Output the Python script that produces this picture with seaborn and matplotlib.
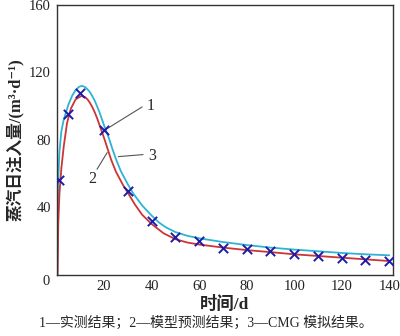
import matplotlib
matplotlib.use("Agg")
import matplotlib.pyplot as plt
import seaborn as sns
import pandas as pd

# Measured daily steam injection (d, m3/d)
meas_t = [1, 5, 10, 20, 30, 40, 50, 60, 70, 80, 90, 100, 110, 120, 130, 140]
meas_q = [56, 95.5, 108, 86, 49.5, 32, 22, 20, 16, 15, 13.7, 12, 11, 10, 8.7, 7.8]

# Model prediction
model_t = [0.4, 0.7, 1.2, 2, 3, 4.4, 6, 8, 10.4, 12, 13, 14, 15, 16, 17, 18, 19, 20,
           21.5, 23, 25, 28, 30, 33, 36, 40, 45, 50, 55, 60, 70, 80, 90, 100, 110,
           120, 130, 140]
model_q = [0, 30, 48, 63, 76, 90, 98.5, 104, 106, 105.3, 104, 102, 99.5, 96.5, 93,
           89, 85, 81, 74.5, 68, 61, 53, 48.5, 41.5, 35.5, 30, 24.5, 21, 19, 17.8,
           16, 14.5, 13.3, 12, 11, 10, 9, 8]

# CMG simulation
cmg_t = [0.3, 0.5, 0.8, 1.2, 2, 3, 4, 5, 6.5, 8, 9.5, 10.7, 12, 13, 14, 15, 16, 17,
         18, 19, 20, 22, 23.5, 25, 27, 30, 32.3, 36, 40, 43, 46, 50, 55, 60, 70, 80,
         90, 100, 110, 120, 130, 140]
cmg_q = [0, 35, 60, 73, 85, 92, 96.5, 101, 106, 109.5, 111.5, 112, 111.3, 110,
         108.3, 106, 103.3, 100, 96.5, 92.5, 88.5, 81, 74.5, 68.5, 61.5, 53.5, 48,
         41, 35, 31, 28, 25.2, 23, 21.5, 19.3, 17.5, 16, 14.8, 13.8, 12.8, 12, 11.4]

x_ticks = [20, 40, 60, 80, 100, 120, 140]
y_ticks = [40, 80, 120, 160]

sns.set_style("white")
FAMILY = ["Liberation Serif", "Noto Sans CJK SC", "DejaVu Serif"]
plt.rcParams["font.family"] = FAMILY

meas = pd.DataFrame({"t": meas_t, "q": meas_q})
model = pd.DataFrame({"t": model_t, "q": model_q})
cmg = pd.DataFrame({"t": cmg_t, "q": cmg_q})

fig = plt.figure(figsize=(4.0, 3.36), dpi=100)
ax = fig.add_axes([0.1415, 0.183, 0.841, 0.802])

sns.lineplot(data=cmg, x="t", y="q", ax=ax, color="#2fb3d3", linewidth=1.3,
             sort=False, estimator=None)
sns.lineplot(data=model, x="t", y="q", ax=ax, color="#cc3535", linewidth=1.3,
             sort=False, estimator=None)
sns.scatterplot(data=meas, x="t", y="q", ax=ax, marker="x", s=45,
                color="#1c1ca8", linewidth=1.4, zorder=5)

ax.set_xlim(0, 141.6)
ax.set_ylim(0, 160)
ax.set_xticks(x_ticks)
ax.set_yticks(y_ticks)
ax.tick_params(direction="in", length=3.5, width=0.9, labelsize=10.5,
               colors="#222222", pad=4)
for s in ax.spines.values():
    s.set_visible(True)
    s.set_color("#333333")
    s.set_linewidth(1.0)

# shared origin label
ax.text(-0.02, -0.025, "0", transform=ax.transAxes, ha="right", va="center",
        fontsize=10.5, color="#222222")

ax.set_xlabel("时间/d", fontsize=12.5, fontweight="bold", labelpad=2,
              family=FAMILY)
ax.set_ylabel("蒸汽日注入量/(m³·d⁻¹)", fontsize=12, fontweight="bold",
              labelpad=4, family=FAMILY)

# curve labels with leader lines
lc = "#555555"
ax.plot([20, 36], [85.5, 99.5], color=lc, linewidth=0.8)
ax.text(38.0, 100, "1", fontsize=11.5, va="center", ha="left")
ax.plot([26, 36.4], [70, 71.2], color=lc, linewidth=0.8)
ax.text(38.5, 70.5, "3", fontsize=11.5, va="center", ha="left")
ax.plot([21.3, 17], [72.4, 62.5], color=lc, linewidth=0.8)
ax.text(15, 56.5, "2", fontsize=11.5, va="center", ha="center")

fig.text(0.515, 0.038, "1—实测结果；2—模型预测结果；3—CMG 模拟结果。",
         ha="center", va="center", fontsize=10, family=FAMILY)

fig.savefig("out.png", dpi=100)
